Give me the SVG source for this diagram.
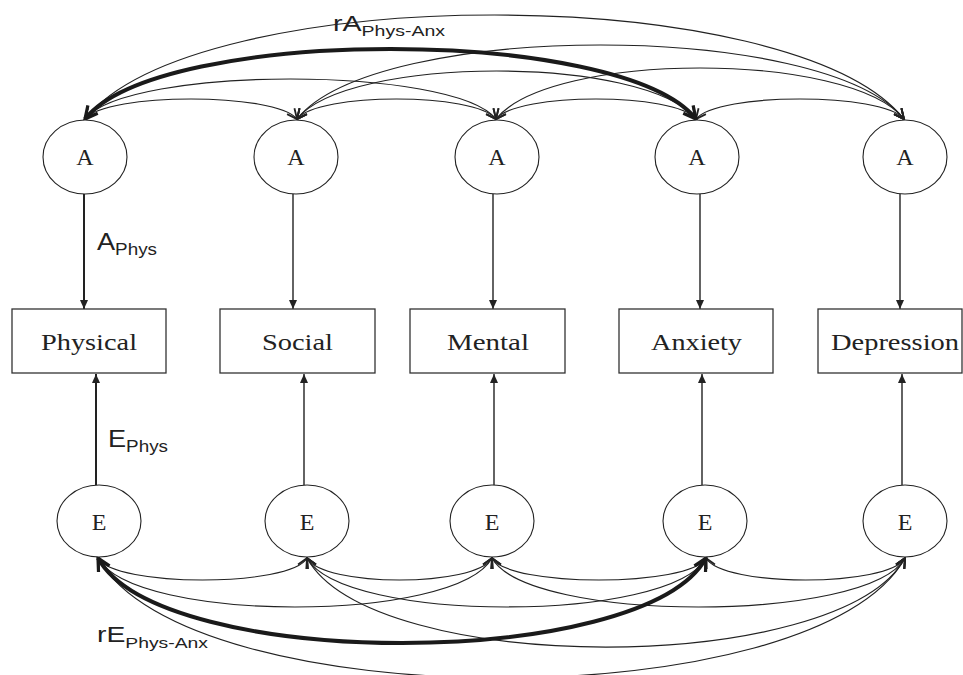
<svg xmlns="http://www.w3.org/2000/svg" width="963" height="675" viewBox="0 0 963 675">
<style>
.bg{fill:#ffffff}
.ell{fill:#ffffff;stroke:#222;stroke-width:1.1}
.box{fill:#ffffff;stroke:#333;stroke-width:1.3}
.lt{font-family:"Liberation Serif","Times New Roman",serif;font-size:24px;fill:#222;text-anchor:middle}
.lab{font-family:"Liberation Sans",Arial,sans-serif;fill:#222}
.cov{fill:none;stroke:#222;stroke-width:1.2;marker-start:url(#chev);marker-end:url(#chev)}
.covb{fill:none;stroke:#1a1a1a;stroke-width:4;marker-start:url(#chevb);marker-end:url(#chevb)}
.path{fill:none;stroke:#222;stroke-width:1.4;marker-end:url(#tri)}
.pathb{fill:none;stroke:#222;stroke-width:2;marker-end:url(#tri)}
</style>
<defs>
<marker id="chev" markerUnits="userSpaceOnUse" markerWidth="16" markerHeight="16" refX="11" refY="5.5" orient="auto-start-reverse" viewBox="0 0 16 11">
<path d="M1,0.8 L11,5.5 L1,10.2" fill="none" stroke="#222" stroke-width="1.8"/>
</marker>
<marker id="chevb" markerUnits="userSpaceOnUse" markerWidth="20" markerHeight="20" refX="14" refY="7.5" orient="auto-start-reverse" viewBox="0 0 20 15">
<path d="M1.5,1.2 L14,7.5 L1.5,13.8" fill="none" stroke="#1a1a1a" stroke-width="3.2"/>
</marker>
<marker id="tri" markerUnits="userSpaceOnUse" markerWidth="10" markerHeight="10" refX="9" refY="4" orient="auto" viewBox="0 0 10 8">
<path d="M0,0 L9,4 L0,8 Z" fill="#222"/>
</marker>
</defs>
<rect class="bg" x="0" y="0" width="963" height="675"/>

<g id="connectors">
<!-- A paths -->
<line class="pathb" x1="84" y1="194" x2="84" y2="309"/>
<line class="path" x1="293" y1="194" x2="293" y2="309"/>
<line class="path" x1="493" y1="194" x2="493" y2="309"/>
<line class="path" x1="700" y1="194" x2="700" y2="309"/>
<line class="path" x1="900" y1="194" x2="900" y2="309"/>
<!-- E paths -->
<line class="pathb" x1="96" y1="485" x2="96" y2="374"/>
<line class="path" x1="304" y1="485" x2="304" y2="374"/>
<line class="path" x1="494" y1="485" x2="494" y2="374"/>
<line class="path" x1="702" y1="485" x2="702" y2="374"/>
<line class="path" x1="902" y1="485" x2="902" y2="374"/>
<!-- A covariances -->
<path class="cov" d="M85,119 C106.3,92.3 275.7,92.3 297,119"/>
<path class="cov" d="M85,119 C127.7,65.7 453.3,65.7 496,119"/>
<path class="cov" d="M85,119 C196,-19.7 793,-19.7 904,119"/>
<path class="cov" d="M297,119 C318.3,92.3 474.7,92.3 496,119"/>
<path class="cov" d="M297,119 C348.2,55 644.8,55 696,119"/>
<path class="cov" d="M297,119 C376,20.3 825,20.3 904,119"/>
<path class="cov" d="M496,119 C517.3,92.3 674.7,92.3 696,119"/>
<path class="cov" d="M496,119 C550.4,51 849.6,51 904,119"/>
<path class="cov" d="M696,119 C717.3,92.3 882.7,92.3 904,119"/>
<path class="covb" d="M85,119 C159.7,25.7 621.3,25.7 696,119"/>
<!-- E covariances -->
<path class="cov" d="M98,558 C114.1,587.3 290.9,587.3 307,558"/>
<path class="cov" d="M307,558 C323.1,587.3 475.9,587.3 492,558"/>
<path class="cov" d="M492,558 C508.1,587.3 689.9,587.3 706,558"/>
<path class="cov" d="M706,558 C722.1,587.3 888.9,587.3 905,558"/>
<path class="cov" d="M98,558 C133.9,623.3 456.1,623.3 492,558"/>
<path class="cov" d="M307,558 C342.9,623.3 670.1,623.3 706,558"/>
<path class="cov" d="M492,558 C527.9,623.3 869.1,623.3 905,558"/>
<path class="cov" d="M307,558 C372.3,676.7 839.7,676.7 905,558"/>
<path class="cov" d="M98,558 C186,718 817,718 905,558"/>
<path class="covb" d="M98,558 C160.3,671.3 643.7,671.3 706,558"/>
</g>

<g id="labels">
<text class="lab" x="97" y="250" textLength="60" lengthAdjust="spacingAndGlyphs"><tspan font-size="23">A</tspan><tspan font-size="16" dy="5">Phys</tspan></text>
<text class="lab" x="108" y="447" textLength="60" lengthAdjust="spacingAndGlyphs"><tspan font-size="23">E</tspan><tspan font-size="16" dy="5">Phys</tspan></text>
<text class="lab" x="333" y="31" textLength="112" lengthAdjust="spacingAndGlyphs"><tspan font-size="22">rA</tspan><tspan font-size="15" dy="5">Phys-Anx</tspan></text>
<text class="lab" x="97" y="642" textLength="111" lengthAdjust="spacingAndGlyphs"><tspan font-size="22">rE</tspan><tspan font-size="15" dy="6">Phys-Anx</tspan></text>
</g>

<g id="A1"><ellipse class="ell" cx="85" cy="157" rx="42" ry="37"/><text class="lt" x="85" y="165">A</text></g>
<g id="A2"><ellipse class="ell" cx="296" cy="157" rx="42" ry="37"/><text class="lt" x="296" y="165">A</text></g>
<g id="A3"><ellipse class="ell" cx="497" cy="157" rx="42" ry="37"/><text class="lt" x="497" y="165">A</text></g>
<g id="A4"><ellipse class="ell" cx="697" cy="157" rx="42" ry="37"/><text class="lt" x="697" y="165">A</text></g>
<g id="A5"><ellipse class="ell" cx="905" cy="157" rx="42" ry="37"/><text class="lt" x="905" y="165">A</text></g>

<g id="Physical"><rect class="box" x="12" y="309" width="154" height="64"/><text class="lt" x="89" y="350" textLength="96" lengthAdjust="spacingAndGlyphs">Physical</text></g>
<g id="Social"><rect class="box" x="220" y="309" width="155" height="64"/><text class="lt" x="297.5" y="350" textLength="71" lengthAdjust="spacingAndGlyphs">Social</text></g>
<g id="Mental"><rect class="box" x="410" y="309" width="155" height="64"/><text class="lt" x="488" y="350" textLength="82" lengthAdjust="spacingAndGlyphs">Mental</text></g>
<g id="Anxiety"><rect class="box" x="619" y="309" width="154" height="64"/><text class="lt" x="696.5" y="350" textLength="91" lengthAdjust="spacingAndGlyphs">Anxiety</text></g>
<g id="Depression"><rect class="box" x="818" y="309" width="144" height="64"/><text class="lt" x="895" y="350" textLength="128" lengthAdjust="spacingAndGlyphs">Depression</text></g>

<g id="E1"><ellipse class="ell" cx="99" cy="521" rx="42" ry="36"/><text class="lt" x="99" y="530">E</text></g>
<g id="E2"><ellipse class="ell" cx="307" cy="521" rx="42" ry="36"/><text class="lt" x="307" y="530">E</text></g>
<g id="E3"><ellipse class="ell" cx="492" cy="521" rx="42" ry="36"/><text class="lt" x="492" y="530">E</text></g>
<g id="E4"><ellipse class="ell" cx="705" cy="521" rx="42" ry="36"/><text class="lt" x="705" y="530">E</text></g>
<g id="E5"><ellipse class="ell" cx="905" cy="521" rx="42" ry="36"/><text class="lt" x="905" y="530">E</text></g>
</svg>
